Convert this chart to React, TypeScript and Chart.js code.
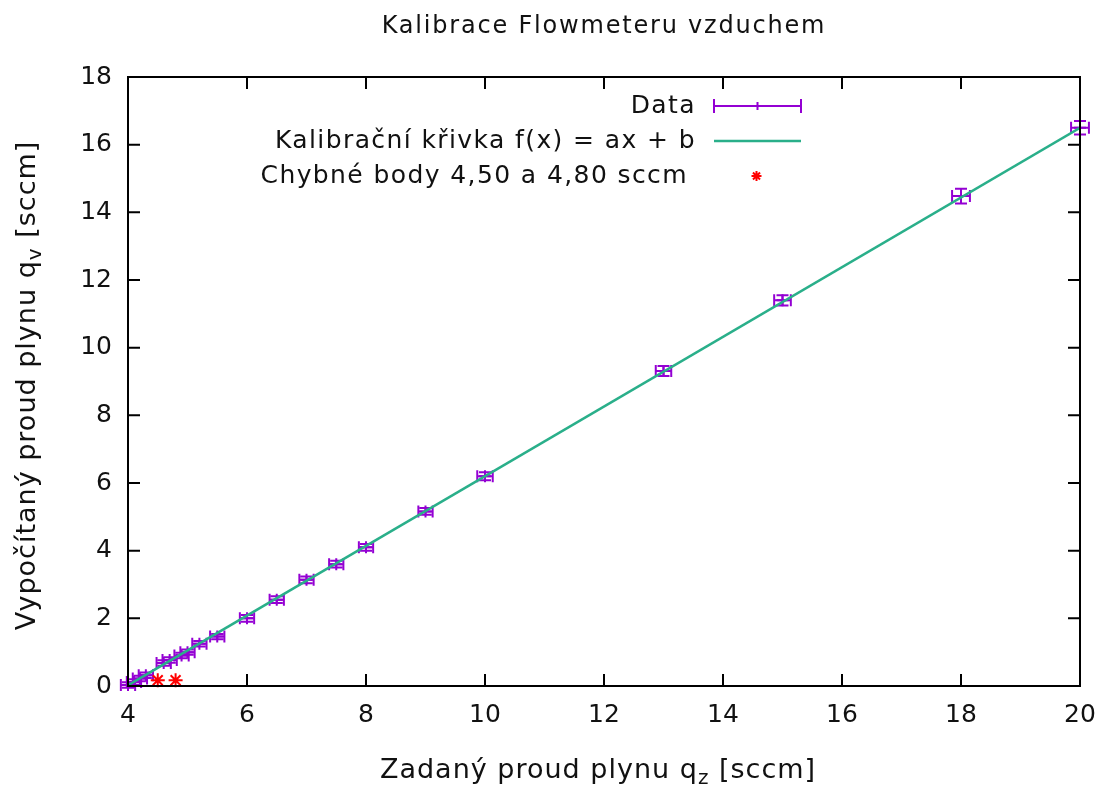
import React, { useEffect, useRef } from "react";
import { Chart, registerables } from "chart.js";

Chart.register(...registerables);

// ---- data ----
const dataX = [4.0, 4.1, 4.2, 4.3, 4.6, 4.7, 4.9, 5.0, 5.2, 5.5, 6.0, 6.5, 7.0, 7.5, 8.0, 9.0, 10.0, 13.0, 15.0, 18.0, 20.0];
const dataY = [0.03, 0.12, 0.22, 0.32, 0.68, 0.77, 0.9, 1.0, 1.25, 1.46, 2.0, 2.55, 3.14, 3.6, 4.1, 5.16, 6.2, 9.31, 11.4, 14.48, 16.5];
const xErr = [0.12, 0.12, 0.12, 0.12, 0.12, 0.12, 0.12, 0.12, 0.12, 0.12, 0.12, 0.12, 0.12, 0.12, 0.12, 0.12, 0.13, 0.13, 0.14, 0.15, 0.15];
const yErr = [0.08, 0.08, 0.08, 0.08, 0.08, 0.08, 0.08, 0.08, 0.08, 0.08, 0.1, 0.1, 0.1, 0.1, 0.1, 0.1, 0.12, 0.15, 0.15, 0.22, 0.2];
const fitX = [4, 20];
const fitY = [0.02, 16.5];
const badX = [4.5, 4.8];
const badY = [0.17, 0.17];
const xTickMin = 4, xTickMax = 20, xTickStep = 2;
const yTickMin = 0, yTickMax = 18, yTickStep = 2;

const TITLE = "Kalibrace Flowmeteru vzduchem";
const LEGEND = ["Data", "Kalibrační křivka f(x) = ax + b", "Chybné body 4,50 a 4,80 sccm"];
const XLABEL = [{ t: "Zadaný proud plynu q" }, { t: "z", sub: true }, { t: " [sccm]" }];
const YLABEL = [{ t: "Vypočítaný proud plynu q" }, { t: "v", sub: true }, { t: " [sccm]" }];

const PURPLE = "#9400d3";
const GREEN = "#2aaf8a";
const RED = "#ff0000";
const FONT = "'DejaVu Sans', sans-serif";
const CAP = 6;

function drawRich(ctx: CanvasRenderingContext2D, parts: { t: string; sub?: boolean }[], cx: number, cy: number, size: number) {
  const subSize = Math.round(size * 0.75);
  let total = 0;
  const widths = parts.map((p) => {
    ctx.font = `${p.sub ? subSize : size}px ${FONT}`;
    const w = ctx.measureText(p.t).width;
    total += w;
    return w;
  });
  let x = cx - total / 2;
  ctx.textAlign = "left";
  ctx.textBaseline = "middle";
  parts.forEach((p, i) => {
    ctx.font = `${p.sub ? subSize : size}px ${FONT}`;
    ctx.fillText(p.t, x, p.sub ? cy + size * 0.3 : cy);
    x += widths[i];
  });
}

const customPlugin = {
  id: "gnuplotStyle",
  afterDatasetDraw(chart: any, args: any) {
    if (args.index !== 0) return;
    const { ctx, scales } = chart;
    const xs = scales.x, ys = scales.y;
    ctx.save();
    ctx.strokeStyle = PURPLE;
    ctx.lineWidth = 2;
    dataX.forEach((vx, i) => {
      const vy = dataY[i];
      const px = xs.getPixelForValue(vx), py = ys.getPixelForValue(vy);
      const x0 = xs.getPixelForValue(vx - xErr[i]), x1 = xs.getPixelForValue(vx + xErr[i]);
      const y0 = ys.getPixelForValue(vy - yErr[i]), y1 = ys.getPixelForValue(vy + yErr[i]);
      ctx.beginPath();
      ctx.moveTo(x0, py); ctx.lineTo(x1, py);
      ctx.moveTo(x0, py - CAP); ctx.lineTo(x0, py + CAP);
      ctx.moveTo(x1, py - CAP); ctx.lineTo(x1, py + CAP);
      ctx.moveTo(px, y0); ctx.lineTo(px, y1);
      ctx.moveTo(px - CAP, y0); ctx.lineTo(px + CAP, y0);
      ctx.moveTo(px - CAP, y1); ctx.lineTo(px + CAP, y1);
      ctx.stroke();
    });
    ctx.restore();
  },
  afterDraw(chart: any) {
    const { ctx, chartArea, scales } = chart;
    const { left, right, top, bottom } = chartArea;
    ctx.save();
    // border
    ctx.strokeStyle = "#000";
    ctx.lineWidth = 2;
    ctx.strokeRect(left, top, right - left, bottom - top);
    // ticks (inward, mirrored)
    const TL = 12;
    ctx.beginPath();
    scales.x.ticks.forEach((t: any) => {
      const px = scales.x.getPixelForValue(t.value);
      ctx.moveTo(px, bottom); ctx.lineTo(px, bottom - TL);
      ctx.moveTo(px, top); ctx.lineTo(px, top + TL);
    });
    scales.y.ticks.forEach((t: any) => {
      const py = scales.y.getPixelForValue(t.value);
      ctx.moveTo(left, py); ctx.lineTo(left + TL, py);
      ctx.moveTo(right, py); ctx.lineTo(right - TL, py);
    });
    ctx.stroke();

    ctx.fillStyle = "#111";
    (ctx as any).letterSpacing = "1.8px";
    // title
    ctx.font = `24px ${FONT}`;
    ctx.textAlign = "center";
    ctx.textBaseline = "middle";
    ctx.fillText(TITLE, (left + right) / 2, 27);
    // axis labels
    (ctx as any).letterSpacing = "1px";
    drawRich(ctx, XLABEL, (left + right) / 2 - 6, 771, 27);
    ctx.save();
    ctx.translate(28, (top + bottom) / 2 + 4);
    ctx.rotate(-Math.PI / 2);
    drawRich(ctx, YLABEL, 0, 0, 27);
    ctx.restore();

    // legend
    (ctx as any).letterSpacing = "1.4px";
    ctx.font = `25px ${FONT}`;
    ctx.textAlign = "right";
    ctx.textBaseline = "middle";
    const ly = [106, 141, 176];
    const tx = 696, s0 = 714, s1 = 801, sm = (s0 + s1) / 2;
    LEGEND.forEach((l, i) => ctx.fillText(l, i === 2 ? tx - 8 : tx, ly[i]));
    // Data sample
    ctx.strokeStyle = PURPLE;
    ctx.lineWidth = 2;
    ctx.beginPath();
    ctx.moveTo(s0, ly[0]); ctx.lineTo(s1, ly[0]);
    ctx.moveTo(s0, ly[0] - 7); ctx.lineTo(s0, ly[0] + 7);
    ctx.moveTo(s1, ly[0] - 7); ctx.lineTo(s1, ly[0] + 7);
    ctx.moveTo(sm, ly[0] - 4); ctx.lineTo(sm, ly[0] + 4);
    ctx.stroke();
    // fit sample
    ctx.strokeStyle = GREEN;
    ctx.lineWidth = 2.5;
    ctx.beginPath();
    ctx.moveTo(s0, ly[1]); ctx.lineTo(s1, ly[1]);
    ctx.stroke();
    // star sample
    ctx.strokeStyle = RED;
    ctx.lineWidth = 2;
    ctx.beginPath();
    const r = 5;
    for (let k = 0; k < 4; k++) {
      const a = (k * Math.PI) / 4;
      ctx.moveTo(sm - 1 - r * Math.cos(a), ly[2] - r * Math.sin(a));
      ctx.lineTo(sm - 1 + r * Math.cos(a), ly[2] + r * Math.sin(a));
    }
    ctx.stroke();
    ctx.restore();
  },
};

export default function App() {
  const ref = useRef<HTMLCanvasElement | null>(null);
  useEffect(() => {
    document.body.style.margin = "0";
    const canvas = ref.current!;
    const chart = new Chart(canvas, {
      type: "scatter",
      data: {
        datasets: [
          {
            label: LEGEND[0],
            data: dataX.map((x, i) => ({ x, y: dataY[i] })),
            pointStyle: "cross",
            pointRadius: 6,
            borderColor: PURPLE,
            backgroundColor: PURPLE,
            borderWidth: 2,
            showLine: false,
            order: 3,
            clip: false as any,
          },
          {
            label: LEGEND[1],
            type: "line" as any,
            data: fitX.map((x, i) => ({ x, y: fitY[i] })),
            borderColor: GREEN,
            borderWidth: 2.5,
            pointRadius: 0,
            showLine: true,
            fill: false,
            order: 2,
          },
          {
            label: LEGEND[2],
            data: badX.map((x, i) => ({ x, y: badY[i] })),
            pointStyle: "star",
            pointRadius: 7,
            borderColor: RED,
            backgroundColor: RED,
            borderWidth: 2,
            order: 1,
            clip: false as any,
          },
        ],
      },
      options: {
        animation: false,
        responsive: false,
        layout: { padding: { top: 77, right: 24, left: 0, bottom: 0 } },
        plugins: { legend: { display: false }, title: { display: false }, tooltip: { enabled: false } },
        scales: {
          x: {
            type: "linear",
            min: xTickMin,
            max: xTickMax,
            ticks: { stepSize: xTickStep, color: "#111", font: { family: "DejaVu Sans", size: 25 }, padding: 14, maxRotation: 0, autoSkip: false },
            grid: { display: false, drawTicks: false },
            border: { display: false },
            afterFit: (s: any) => { s.height = 101; s.paddingLeft = 0; s.paddingRight = 0; },
          },
          y: {
            type: "linear",
            min: yTickMin,
            max: yTickMax,
            ticks: { stepSize: yTickStep, color: "#111", font: { family: "DejaVu Sans", size: 25 }, padding: 16 },
            grid: { display: false, drawTicks: false },
            border: { display: false },
            afterFit: (s: any) => { s.width = 128; s.paddingTop = 0; s.paddingBottom = 0; },
          },
        },
      },
      plugins: [customPlugin],
    });
    return () => chart.destroy();
  }, []);
  return (
    <div style={{ width: 1104, height: 787, background: "#fff" }}>
      <canvas ref={ref} width={1104} height={787} style={{ display: "block" }} />
    </div>
  );
}
